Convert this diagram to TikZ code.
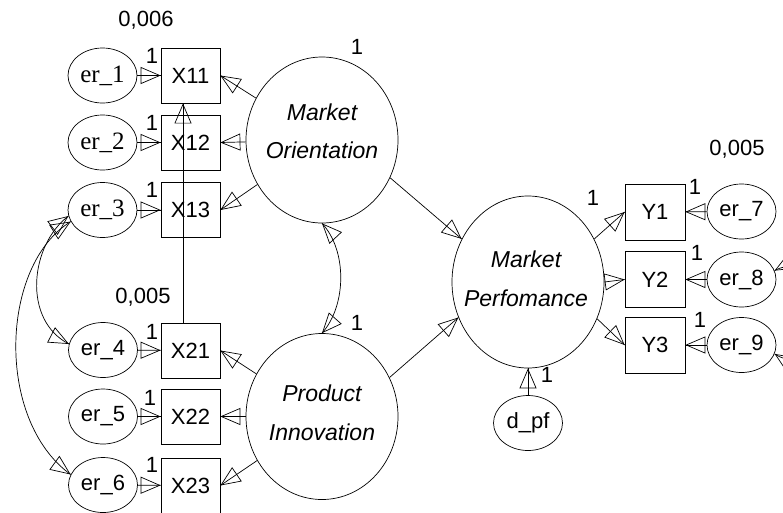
\documentclass[tikz,border=0pt]{standalone}
\usepackage{fontspec}
\setmainfont{Liberation Sans}
\newfontfamily\sererfont{Liberation Serif}
\usetikzlibrary{arrows.meta,shapes.geometric,decorations.markings}
\begin{document}
\begin{tikzpicture}[x=1pt,y=-1pt,line width=0.7pt,
  every node/.style={inner sep=0pt,font=\fontsize{22}{26}\selectfont},
  obs/.style={draw,rectangle,minimum width=59pt,minimum height=55pt},
  err/.style={draw,ellipse,minimum width=69pt,minimum height=55pt},
  lat/.style={draw,ellipse,minimum width=152pt,minimum height=166pt},
  lattext/.style={font=\itshape\fontsize{23}{27}\selectfont},
  arr/.style={decoration={markings,
      mark=at position 0.9995 with {\arrow{Triangle[open,length=20pt,width=17pt]}}},
      postaction={decorate}},
  biarr/.style={decoration={markings,
      mark=at position 0.0005 with {\arrowreversed{Triangle[open,length=20pt,width=17pt]}},
      mark=at position 0.9995 with {\arrow{Triangle[open,length=20pt,width=17pt]}}},
      postaction={decorate}},
]
\useasboundingbox (0,0) rectangle (783,512);
\clip (0,0) rectangle (783,512);

% observed boxes
\node[obs] (X11) at (190.5,75.5) {X11};
\node[obs] (X12) at (190.5,142.5) {X12};
\node[obs] (X13) at (190.5,210) {X13};
\node[obs] (X21) at (190.5,350.5) {X21};
\node[obs] (X22) at (190.5,416.5) {X22};
\node[obs] (X23) at (190.5,485.5) {X23};
\node[obs,minimum width=60pt,minimum height=56pt] (Y1) at (655,212) {Y1};
\node[obs,minimum width=60pt,minimum height=56pt] (Y2) at (655,279.5) {Y2};
\node[obs,minimum width=60pt,minimum height=56pt] (Y3) at (655,345) {Y3};

% error terms
\node[err] (e1) at (102.5,75.5) {\sererfont\fontsize{25}{28}\selectfont er\_1};
\node[err] (e2) at (102.5,142.5) {\sererfont\fontsize{25}{28}\selectfont er\_2};
\node[err] (e3) at (102.5,210) {\sererfont\fontsize{25}{28}\selectfont er\_3};
\node[err] (e4) at (103,350) {er\_4};
\node[err] (e5) at (103,416.5) {er\_5};
\node[err] (e6) at (103,485) {er\_6};
\node[err] (e7) at (741.5,211.5) {er\_7};
\node[err] (e8) at (741.5,279.5) {er\_8};
\node[err] (e9) at (741.5,345) {er\_9};
\node[err] (dpf) at (528,423) {d\_pf};

% latent variables
\node[lat] (MO) at (322,140) {};
\node[lat] (PI) at (322,416.5) {};
\node[lat,minimum height=172pt] (MP) at (528,282) {};
\node[lattext] (MOa) at (322,112) {Market};
\node[lattext] (MOb) at (322,150) {Orientation};
\node[lattext] (PIa) at (322,393) {Product};
\node[lattext] (PIb) at (322,432) {Innovation};
\node[lattext] (MPa) at (526,259) {Market};
\node[lattext] (MPb) at (526,298) {Perfomance};

% numeric labels
\node (v1) at (146,20) {0,006};
\node (v2) at (143,297) {0,005};
\node (v3) at (737,149) {0,005};
\node (l1) at (152,56) {1};
\node (l2) at (152,123) {1};
\node (l3) at (152,190) {1};
\node (l4) at (152,332) {1};
\node (l5) at (150,398) {1};
\node (l6) at (152,465) {1};
\node (l7) at (357,47) {1};
\node (l8) at (357,323) {1};
\node (l9) at (593,198) {1};
\node (l10) at (695,187) {1};
\node (l11) at (697,253) {1};
\node (l12) at (700,320) {1};
\node (l13) at (547,375) {1};

% error -> indicator
\draw[arr] (e1) -- (X11);
\draw[arr] (e2) -- (X12);
\draw[arr] (e3) -- (X13);
\draw[arr] (e4) -- (X21);
\draw[arr] (e5) -- (X22);
\draw[arr] (e6) -- (X23);
\draw[arr] (e7) -- (Y1);
\draw[arr] (e8) -- (Y2);
\draw[arr] (e9) -- (Y3);
\draw[arr] (dpf) -- (MP);

% latent -> indicators
\draw[arr] (MO) -- (X11.east);
\draw[arr] (MO) -- (X12.east);
\draw[arr] (MO) -- (X13.east);
\draw[arr] (PI) -- (X21.east);
\draw[arr] (PI) -- (X22.east);
\draw[arr] (PI) -- (X23.east);
\draw[arr] (MP.33) -- (Y1.west);
\draw[arr] (MP.east) -- (Y2.west);
\draw[arr] (MP.-28) -- (Y3.west);

% structural paths
\draw[arr] (MO.-29) -- (MP.147);
\draw[arr] (PI.30) -- (MP.-153);

% X21 -> X11
\draw[arr] ([xshift=-7.5pt]X21.north) -- ([xshift=-7.5pt]X11.south);

% covariances
\draw[biarr] (MO.south) .. controls (347,250) and (347,305) .. (PI.north);
\draw[biarr] (e3.190) .. controls (30,245) and (22,320) .. (e4.170);
\draw[biarr] (e3.200) .. controls (0,265) and (-5,420) .. (e6.162);
\draw[biarr] (e8.15) .. controls (830,240) and (830,390) .. (e9.-15);
\end{tikzpicture}
\end{document}
